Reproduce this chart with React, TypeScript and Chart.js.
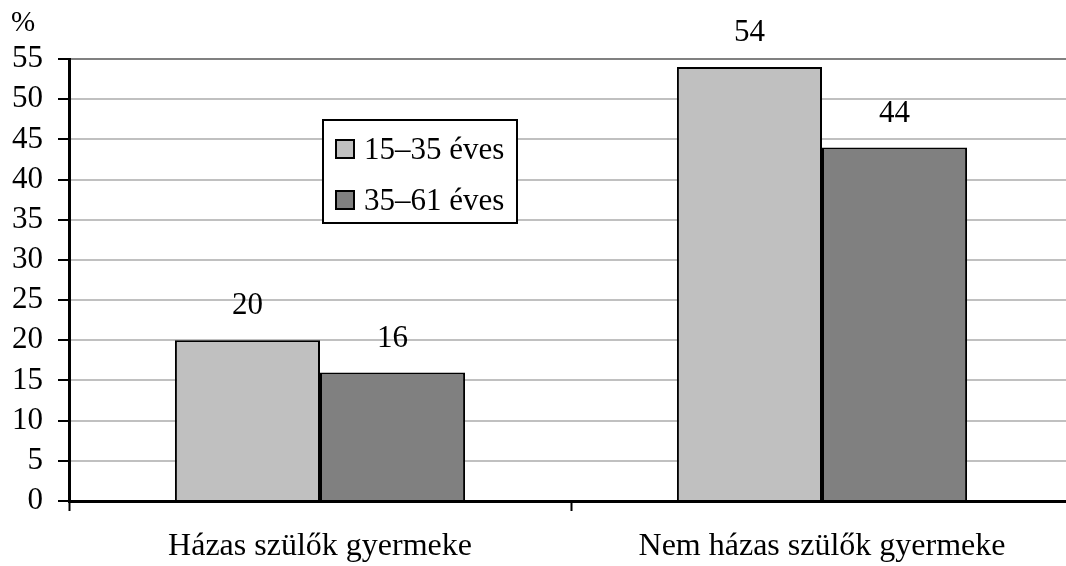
import React, { useEffect, useRef } from "react";
import { Chart, registerables } from "chart.js";

Chart.register(...registerables);

const categories = ["Házas szülők gyermeke", "Nem házas szülők gyermeke"];
const seriesNames = ["15–35 éves", "35–61 éves"];
const youngValues = [20, 54];
const olderValues = [16, 44];
const seriesColors = ["#C0C0C0", "#808080"];
const yMax = 55;
const yStep = 5;
const unitLabel = "%";

const FONT = "'Liberation Serif', 'Times New Roman', serif";

const overlayPlugin = {
  id: "overlay",
  afterDatasetsDraw(chart: any) {
    const ctx = chart.ctx;
    ctx.save();
    ctx.fillStyle = "#000";
    ctx.font = `31px ${FONT}`;
    ctx.textAlign = "center";
    ctx.textBaseline = "middle";
    chart.data.datasets.forEach((ds: any, di: number) => {
      const meta = chart.getDatasetMeta(di);
      meta.data.forEach((bar: any, i: number) => {
        ctx.fillText(String(ds.data[i]), bar.x, bar.y - 34);
      });
    });
    // unit label
    ctx.font = `29px ${FONT}`;
    ctx.textAlign = "left";
    ctx.fillText(unitLabel, 11, 23);
    // legend
    const lx = 323, ly = 120, lw = 194, lh = 103;
    ctx.fillStyle = "#fff";
    ctx.fillRect(lx, ly, lw, lh);
    ctx.lineWidth = 2;
    ctx.strokeStyle = "#000";
    ctx.strokeRect(lx, ly, lw, lh);
    ctx.font = `31px ${FONT}`;
    seriesNames.forEach((name, i) => {
      const cy = 149 + i * 51;
      ctx.fillStyle = seriesColors[i];
      ctx.fillRect(336, cy - 9, 18, 18);
      ctx.lineWidth = 2;
      ctx.strokeStyle = "#000";
      ctx.strokeRect(336, cy - 9, 18, 18);
      ctx.fillStyle = "#000";
      ctx.textAlign = "left";
      ctx.fillText(name, 364, cy + 2);
    });
    ctx.restore();
  },
};

export default function App() {
  const ref = useRef<HTMLCanvasElement>(null);
  useEffect(() => {
    const chart = new Chart(ref.current!, {
      type: "bar",
      data: {
        labels: categories,
        datasets: [
          {
            label: seriesNames[0],
            data: youngValues,
            backgroundColor: seriesColors[0],
            borderColor: "#000",
            borderWidth: 2,
            categoryPercentage: 0.578,
            barPercentage: 1,
          },
          {
            label: seriesNames[1],
            data: olderValues,
            backgroundColor: seriesColors[1],
            borderColor: "#000",
            borderWidth: 2,
            categoryPercentage: 0.578,
            barPercentage: 1,
          },
        ],
      },
      options: {
        animation: false,
        responsive: false,
        maintainAspectRatio: false,
        layout: { padding: { top: 59, right: 3, left: 0, bottom: 0 } },
        plugins: { legend: { display: false }, tooltip: { enabled: false } },
        scales: {
          x: {
            offset: true,
            grid: {
              offset: true,
              drawOnChartArea: false,
              drawTicks: true,
              tickLength: 10,
              tickColor: "#000",
              tickWidth: 2,
            },
            border: { color: "#000", width: 3 },
            ticks: { color: "#000", font: { family: FONT, size: 32 }, padding: 16, autoSkip: false, maxRotation: 0 },
            afterFit: (s: any) => {
              s.height = 65;
            },
          },
          y: {
            min: 0,
            max: yMax,
            ticks: {
              stepSize: yStep,
              autoSkip: false,
              color: "#000",
              font: { family: FONT, size: 31 },
              padding: 15,
            },
            grid: {
              color: (c: any) =>
                c.tick && c.tick.value === yMax
                  ? "#808080"
                  : c.tick && c.tick.value === 0
                  ? "rgba(0,0,0,0)"
                  : "#C0C0C0",
              lineWidth: 2,
              tickColor: "#000",
              tickLength: 11,
              tickWidth: 2,
            },
            border: { color: "#000", width: 3 },
            afterFit: (s: any) => {
              s.width = 69;
            },
          },
        },
      },
      plugins: [overlayPlugin],
    });
    return () => chart.destroy();
  }, []);
  return (
    <div
      style={{
        position: "absolute",
        left: 0,
        top: 0,
        width: 1066,
        height: 566,
        overflow: "hidden",
        background: "#fff",
      }}
    >
      <canvas ref={ref} width={1076} height={566} style={{ display: "block" }} />
    </div>
  );
}
